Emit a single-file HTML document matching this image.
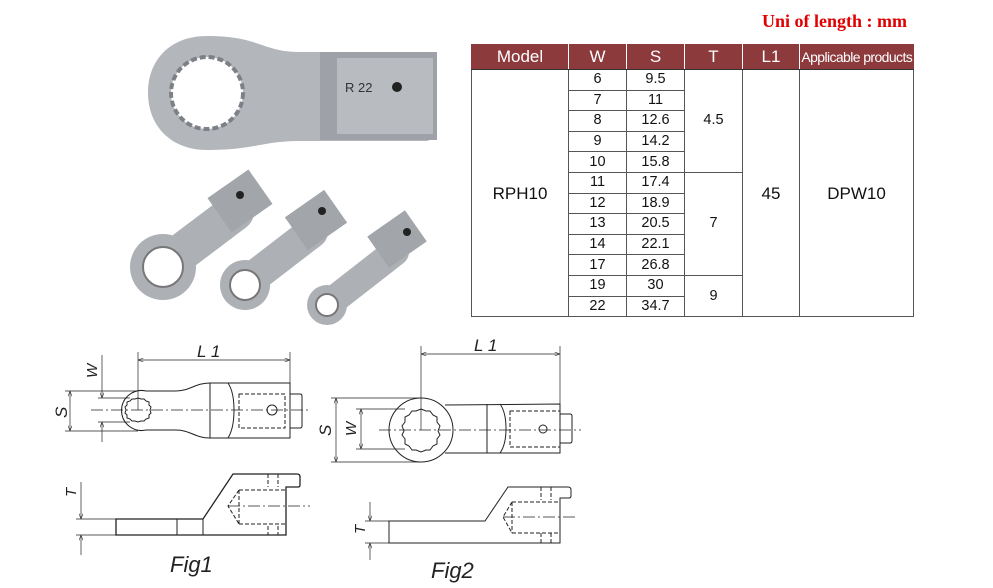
<!DOCTYPE html>
<html><head><meta charset="utf-8"><style>
html,body{margin:0;padding:0;background:#fff;width:993px;height:588px;overflow:hidden;position:relative;font-family:"Liberation Sans",sans-serif}
.title{position:absolute;left:762px;top:11px;color:#e00000;font:bold 18px "Liberation Serif",serif}
table{position:absolute;left:471px;top:44px;border-collapse:collapse;width:443px;font-size:14.5px;color:#111}
th{background:#8c3a3c;color:#fff;font-weight:normal;font-size:17px;height:25px;padding:0;border-left:1px solid #fff;border-bottom:1px solid #333}
th:first-child{border-left:1px solid #8c3a3c}
td{border:1px solid #555;text-align:center;padding:0;height:19.6px;line-height:19px}
.big{font-size:17px}
</style></head><body>
<div class="title">Uni of length : mm</div>
<table>
<tr><th style="width:96px">Model</th><th style="width:57px">W</th><th style="width:57px">S</th><th style="width:57px">T</th><th style="width:56px">L1</th><th style="font-size:14px;letter-spacing:-0.6px">Applicable products</th></tr>
<tr><td rowspan="12" class="big">RPH10</td><td>6</td><td>9.5</td><td rowspan="5">4.5</td><td rowspan="12" class="big">45</td><td rowspan="12" class="big">DPW10</td></tr>
<tr><td>7</td><td>11</td></tr>
<tr><td>8</td><td>12.6</td></tr>
<tr><td>9</td><td>14.2</td></tr>
<tr><td>10</td><td>15.8</td></tr>
<tr><td>11</td><td>17.4</td><td rowspan="5">7</td></tr>
<tr><td>12</td><td>18.9</td></tr>
<tr><td>13</td><td>20.5</td></tr>
<tr><td>14</td><td>22.1</td></tr>
<tr><td>17</td><td>26.8</td></tr>
<tr><td>19</td><td>30</td><td rowspan="2">9</td></tr>
<tr><td>22</td><td>34.7</td></tr>
</table>

<svg width="993" height="588" style="position:absolute;left:0;top:0" xmlns="http://www.w3.org/2000/svg">
<defs>
<marker id="a" markerWidth="8" markerHeight="6" refX="8" refY="3" orient="auto-start-reverse"><path d="M0,0 L8,3 L0,6" fill="none" stroke="#222" stroke-width="0.8"/></marker>
</defs>
<!-- photo: big wrench -->
<g fill="#b3b6bb">
<path d="M207,36 C260,36 262,52 300,52 L425,52 L437,62 L437,132 L428,141 L300,141 C262,141 255,150 207,150 C170,150 148,125 148,93 C148,60 170,36 207,36Z"/>
<rect x="320" y="52" width="117" height="88" fill="#9ea2a8"/>
<rect x="337" y="58" width="96" height="76" fill="#b8bbc0"/>
<circle cx="207" cy="93" r="36" fill="#fff"/>
<circle cx="207" cy="93" r="36" fill="none" stroke="#7d8086" stroke-width="4" stroke-dasharray="6 3"/>
<circle cx="397" cy="87" r="5" fill="#222"/>
</g>
<text x="345" y="92" font-size="13" fill="#333">R 22</text>
<!-- small wrenches -->
<g fill="#adb0b5">
<line x1="162" y1="267" x2="235" y2="212" stroke="#adb0b5" stroke-width="38" stroke-linecap="round"/>
<rect x="215" y="180" width="50" height="42" transform="rotate(-35 240 201)" fill="#a2a5aa"/>
<circle cx="163" cy="267" r="33"/>
<circle cx="163" cy="267" r="20" fill="#fff" stroke="#777" stroke-width="2"/>
<circle cx="240" cy="195" r="4" fill="#222"/>
<line x1="243" y1="285" x2="312" y2="232" stroke="#adb0b5" stroke-width="32" stroke-linecap="round"/>
<rect x="292" y="200" width="48" height="40" transform="rotate(-35 316 220)" fill="#a2a5aa"/>
<circle cx="245" cy="285" r="25"/>
<circle cx="245" cy="285" r="15" fill="#fff" stroke="#777" stroke-width="2"/>
<circle cx="322" cy="211" r="4" fill="#222"/>
<line x1="327" y1="305" x2="395" y2="252" stroke="#adb0b5" stroke-width="28" stroke-linecap="round"/>
<rect x="374" y="220" width="46" height="38" transform="rotate(-35 397 239)" fill="#a2a5aa"/>
<circle cx="327" cy="305" r="20"/>
<circle cx="327" cy="305" r="11" fill="#fff" stroke="#777" stroke-width="2"/>
<circle cx="407" cy="232" r="4" fill="#222"/>
</g>

<!-- Fig1 top view -->
<g fill="none" stroke="#222" stroke-width="1">
<line x1="91" y1="410" x2="311" y2="410" stroke-dasharray="12 3 2 3" stroke-width="0.8"/>
<path d="M146,391 L176,391 C190,391 195,383 210,383 L290,383 L290,438 L210,438 C195,438 190,430 176,430 L146,430"/>
<path d="M146,391 A20,20 0 1 0 146,430"/>
<path d="M138,398 l3,1 3,0 2,2 3,1 0,3 2,2 -1,3 1,3 -2,2 0,3 -3,1 -2,2 -3,0 -3,1 -3,-1 -3,0 -2,-2 -3,-1 0,-3 -2,-2 1,-3 -1,-3 2,-2 0,-3 3,-1 2,-2 3,0 z"/>
<line x1="210" y1="383" x2="210" y2="438"/>
<path d="M228,383 C236,395 236,425 228,438"/>
<rect x="239" y="394" width="46" height="34" stroke-dasharray="4 2"/>
<circle cx="272" cy="410" r="5"/>
<path d="M290,394 L300,394 Q302,394 302,396 L302,426 Q302,428 300,428 L290,428"/>
<line x1="138" y1="352" x2="138" y2="410" stroke-width="0.7"/>
<line x1="290" y1="352" x2="290" y2="383" stroke-width="0.7"/>
<line x1="138" y1="360" x2="290" y2="360" stroke-width="0.7" marker-start="url(#a)" marker-end="url(#a)"/>
<line x1="65" y1="391" x2="138" y2="391" stroke-width="0.7"/>
<line x1="65" y1="431" x2="138" y2="431" stroke-width="0.7"/>
<line x1="70" y1="391" x2="70" y2="431" stroke-width="0.7" marker-start="url(#a)" marker-end="url(#a)"/>
<line x1="98" y1="398" x2="130" y2="398" stroke-width="0.7"/>
<line x1="98" y1="422" x2="130" y2="422" stroke-width="0.7"/>
<line x1="102" y1="355" x2="102" y2="398" stroke-width="0.7" marker-end="url(#a)"/>
<line x1="102" y1="442" x2="102" y2="422" stroke-width="0.7" marker-end="url(#a)"/>
<!-- Fig1 side -->
<path d="M116,519 L203,519 L233,474 L297,474 Q300,474 300,477 L300,485 Q300,487 298,487 L286,487 L286,535 L116,535 Z" stroke-width="1.3"/>
<line x1="177" y1="519" x2="177" y2="535"/><line x1="203" y1="519" x2="203" y2="535"/>
<path d="M268,474 L268,487 M278,474 L278,487 M268,526 L268,535 M278,526 L278,535 M239,490 L286,490 M239,524 L286,524 M239,490 L239,524 M239,490 L228,506 L239,524" stroke-dasharray="4 2"/>
<line x1="228" y1="506" x2="310" y2="506" stroke-dasharray="12 3 2 3" stroke-width="0.8"/>
<line x1="81" y1="482" x2="81" y2="519" stroke-width="0.7" marker-end="url(#a)"/>
<line x1="81" y1="555" x2="81" y2="535" stroke-width="0.7" marker-end="url(#a)"/>
<line x1="76" y1="519" x2="116" y2="519" stroke-width="0.7"/>
<line x1="76" y1="535" x2="116" y2="535" stroke-width="0.7"/>

<!-- Fig2 top -->
<line x1="379" y1="430" x2="581" y2="430" stroke-dasharray="12 3 2 3" stroke-width="0.8"/>
<path d="M445,405 L560,404 L560,453 L445,453"/>
<circle cx="421" cy="430" r="32"/>
<path d="M421,409 l5,2 4,0 3,4 4,2 0,5 3,4 -2,5 2,4 -3,4 0,5 -4,2 -3,4 -4,0 -5,2 -5,-2 -4,0 -3,-4 -4,-2 0,-5 -3,-4 2,-4 -2,-5 3,-4 0,-5 4,-2 3,-4 4,0 z"/>
<line x1="487" y1="404" x2="487" y2="453"/>
<path d="M500,404 C508,415 508,442 500,453"/>
<rect x="510" y="411" width="50" height="36" stroke-dasharray="4 2"/>
<circle cx="543" cy="429" r="4"/>
<path d="M560,414 L570,414 Q572,414 572,416 L572,441 Q572,443 570,443 L560,443"/>
<line x1="421" y1="346" x2="421" y2="430" stroke-width="0.7"/>
<line x1="560" y1="346" x2="560" y2="404" stroke-width="0.7"/>
<line x1="421" y1="354" x2="560" y2="354" stroke-width="0.7" marker-start="url(#a)" marker-end="url(#a)"/>
<line x1="331" y1="398" x2="421" y2="398" stroke-width="0.7"/>
<line x1="331" y1="462" x2="421" y2="462" stroke-width="0.7"/>
<line x1="336" y1="398" x2="336" y2="462" stroke-width="0.7" marker-start="url(#a)" marker-end="url(#a)"/>
<line x1="356" y1="409" x2="405" y2="409" stroke-width="0.7"/>
<line x1="356" y1="449" x2="405" y2="449" stroke-width="0.7"/>
<line x1="361" y1="409" x2="361" y2="449" stroke-width="0.7" marker-start="url(#a)" marker-end="url(#a)"/>
<!-- Fig2 side -->
<path d="M389,521 L485,521 L508,487 L568,487 Q571,487 571,490 L571,496 Q571,498 569,498 L560,498 L560,543 L389,543 Z"/>
<path d="M541,487 L541,500 M551,487 L551,500 M541,533 L541,543 M551,533 L551,543 M512,502 L560,502 M512,533 L560,533 M512,502 L512,533 M512,502 L503,517 L512,533" stroke-dasharray="4 2"/>
<line x1="503" y1="517" x2="576" y2="517" stroke-dasharray="12 3 2 3" stroke-width="0.8"/>
<line x1="370" y1="502" x2="370" y2="521" stroke-width="0.7" marker-end="url(#a)"/>
<line x1="370" y1="560" x2="370" y2="543" stroke-width="0.7" marker-end="url(#a)"/>
<line x1="365" y1="521" x2="389" y2="521" stroke-width="0.7"/>
<line x1="365" y1="543" x2="389" y2="543" stroke-width="0.7"/>
</g>
<g fill="#222" font-style="italic" font-family="Liberation Sans, sans-serif">
<text x="197" y="357" font-size="17">L 1</text>
<text x="474" y="351" font-size="17">L 1</text>
<text x="0" y="0" font-size="17" transform="translate(67,418) rotate(-90)">S</text>
<text x="0" y="0" font-size="15" transform="translate(97,378) rotate(-90)">W</text>
<text x="0" y="0" font-size="15" transform="translate(76,497) rotate(-90)">T</text>
<text x="0" y="0" font-size="17" transform="translate(331,436) rotate(-90)">S</text>
<text x="0" y="0" font-size="15" transform="translate(356,436) rotate(-90)">W</text>
<text x="0" y="0" font-size="15" transform="translate(365,534) rotate(-90)">T</text>
<text x="170" y="572" font-size="22">Fig1</text>
<text x="431" y="578" font-size="22">Fig2</text>
</g>
</svg>
</body></html>
